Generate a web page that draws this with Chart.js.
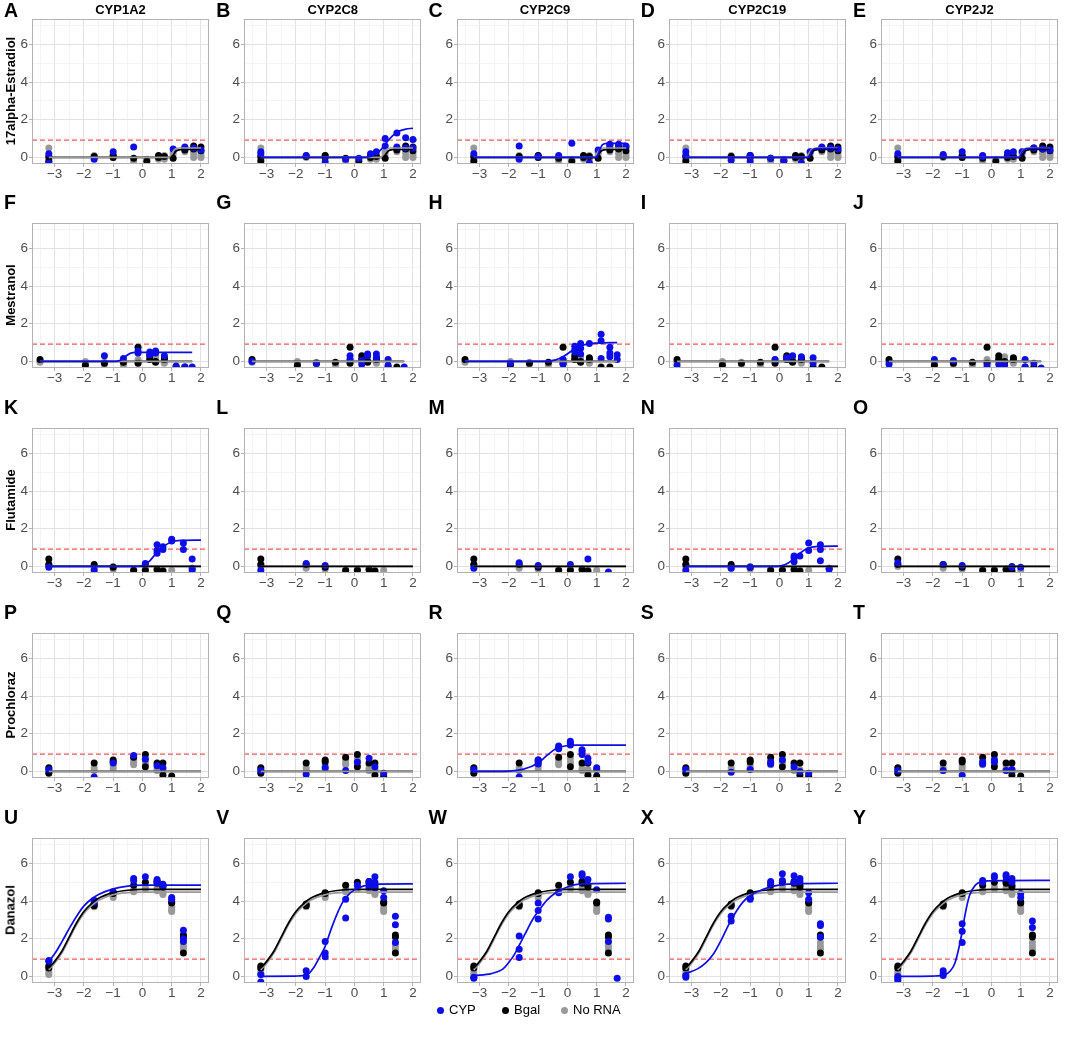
<!DOCTYPE html>
<html>
<head>
<meta charset="utf-8">
<script src="https://cdn.jsdelivr.net/npm/chart.js@4.4.1/dist/chart.umd.min.js"></script>
<style>
  html, body { margin:0; padding:0; background:#ffffff; }
  body { width:1065px; height:1053px; position:relative; overflow:hidden; font-family:"Liberation Sans", Arial, sans-serif; }
  canvas.panel { position:absolute; }
  .letter { position:absolute; font-weight:bold; font-size:19.5px; color:#000; line-height:1; }
  .title { position:absolute; font-weight:bold; font-size:13px; color:#000; text-align:center; width:177px; line-height:1; }
  .ylab { position:absolute; font-weight:bold; font-size:13px; color:#000; white-space:nowrap; transform:translate(-50%,-50%) rotate(-90deg); line-height:1; }
  .legend { position:absolute; top:1002px; left:0; width:1065px; height:18px; font-size:13px; color:#000; }
  .legend .dot { position:absolute; width:7px; height:7px; border-radius:50%; top:5px; }
  .legend .txt { position:absolute; top:1px; line-height:1; }
</style>
</head>
<body>
<script>
// ---------------- axis / layout data ----------------
const X_MIN = -3.775, X_MAX = 2.275;
const Y_MIN = -0.35, Y_MAX = 7.35;
const X_MAJOR = [-3, -2, -1, 0, 1, 2];
const X_MINOR = [-3.5, -2.5, -1.5, -0.5, 0.5, 1.5];
const Y_MAJOR = [0, 2, 4, 6];
const Y_MINOR = [1, 3, 5, 7];
const THRESHOLD = 0.92;

const enzymes = ["CYP1A2", "CYP2C8", "CYP2C9", "CYP2C19", "CYP2J2"];
const compounds = ["17alpha-Estradiol", "Mestranol", "Flutamide", "Prochloraz", "Danazol"];
const panelLetters = ["A","B","C","D","E","F","G","H","I","J","K","L","M","N","O","P","Q","R","S","T","U","V","W","X","Y"];
const fitOnTop = ["grey", "grey", "black", "grey", "black"];

// ---------------- 17alpha-Estradiol ----------------
const estradiolDoses = [-3.2, -1.65, -1.0, -0.3, 0.15, 0.55, 0.75, 1.05, 1.45, 1.75, 2.0];
const estradiolBgal  = [[-0.2,0.05],[0.05],[0.1,0.0],[-0.05],[-0.2],[0.1,0.0],[0.05],[-0.05],[0.5,0.4],[0.6,0.45],[0.55,0.35]];
const estradiolNoRNA = [[0.5,0.0,-0.1],[0.1,0.0],[0.1,0.0],[-0.2],[-0.1],[-0.1,0.0],[0.1,0.0,-0.1],[0.3,0.2],[0.45,0.3],[0.35,0.2,0.0],[0.25,0.1,0.0]];
const estradiolBgalFit  = [[-3.2,0],[0.95,0],[1.05,0.12],[1.15,0.33],[1.3,0.41],[1.5,0.42],[2.0,0.42]];
const estradiolNoRNAFit = [[-3.2,0],[0.9,0],[1.0,0.2],[1.1,0.42],[1.25,0.5],[2.0,0.5]];
const estradiol_CYP1A2  = [[0.2,-0.3],[-0.1],[0.3],[0.55],[],[],[],[0.45],[0.55],[0.5],[0.4]];
const estradiol_CYP2C8  = [[0.3,0.2],[0.1],[-0.25],[-0.1],[-0.05],[0.2],[0.3],[1.0,0.6],[1.3,0.55],[1.05,0.5],[0.95,0.5]];
const estradiol_CYP2C9  = [[0.2],[0.6,-0.1],[0.05],[0.1],[0.75],[],[-0.3],[0.4],[0.7,0.65],[0.7],[0.6]];
const estradiol_CYP2C19 = [[0.3,0.1],[-0.15],[0.1,-0.2],[-0.05],[-0.15],[],[-0.3],[0.3],[0.55],[0.5],[0.45]];
const estradiol_CYP2J2  = [[0.2],[0.15],[0.3],[0.1,0.05],[],[0.25],[0.3],[0.3],[0.5],[0.45],[0.4]];
const estradiol_CYP1A2_fit  = null;
const estradiol_CYP2C8_fit  = [[-3.2,0],[0.4,0],[0.7,0.15],[0.9,0.4],[1.1,0.8],[1.3,1.15],[1.5,1.38],[1.75,1.5],[2.0,1.55]];
const estradiol_CYP2C9_fit  = [[-3.2,0],[1.0,0],[1.1,0.4],[1.2,0.68],[1.35,0.75],[2.0,0.75]];
const estradiol_CYP2C19_fit = [[-3.2,0],[1.0,0],[1.1,0.35],[1.25,0.47],[2.0,0.48]];
const estradiol_CYP2J2_fit  = [[-3.2,0],[0.95,0],[1.05,0.3],[1.2,0.47],[2.0,0.5]];

// ---------------- Mestranol ----------------
const mestranolDoses = [-3.5, -1.95, -1.3, -0.65, -0.15, 0.25, 0.45, 0.75, 1.15, 1.45, 1.7];
const mestranolBgal  = [[0.1],[-0.2],[-0.1],[-0.05],[0.75,-0.1],[0.3,0.1],[0.0,-0.05],[0.2,0.1],[-0.3],[-0.3],[]];
const mestranolNoRNA = [[0.0,-0.05],[-0.1,0.0],[-0.15,-0.05],[-0.2,-0.1],[0.1,0.0],[0.2,0.1],[0.25,0.1],[0.0,-0.1],[],[],[]];
const mestranolBgalFit  = [[-3.5,0],[1.7,0]];
const mestranolNoRNAFit = [[-3.5,0],[1.7,0]];
const mestranol_CYP1A2  = [[],[],[0.3],[0.15],[0.55,0.45],[0.5,0.35],[0.55,0.45],[0.3],[-0.25],[-0.3],[-0.3]];
const mestranol_CYP2C8  = [[0.0],[],[-0.1],[],[0.3,0.1],[0.05,-0.15],[0.4,0.3],[0.4,0.2],[0.1,-0.2],[],[-0.3]];
const mestranol_CYP2C9  = [[],[-0.1],[],[],[0.1,-0.15],[0.8,0.6,0.5],[0.95,0.7,0.4],[0.95],[1.45,1.1,0.15],[0.75,0.45,0.25],[0.35,0.1]];
const mestranol_CYP2C19 = [[-0.2],[],[],[],[0.1],[0.2,0.15],[0.3],[0.25],[0.2,-0.1],[],[]];
const mestranol_CYP2J2  = [[-0.15],[0.1],[0.05],[],[-0.25],[-0.15],[-0.2],[],[0.1,-0.3],[-0.1],[-0.35]];
const mestranol_CYP1A2_fit  = [[-3.5,0],[-0.9,0],[-0.7,0.1],[-0.55,0.3],[-0.4,0.44],[-0.2,0.48],[1.7,0.48]];
const mestranol_CYP2C8_fit  = null;
const mestranol_CYP2C9_fit  = [[-3.5,0],[-0.8,0],[-0.4,0.08],[-0.1,0.3],[0.2,0.62],[0.5,0.85],[0.8,0.95],[1.2,0.99],[1.7,1.0]];
const mestranol_CYP2C19_fit = null;
const mestranol_CYP2J2_fit  = null;

// ---------------- Flutamide ----------------
const flutamideDoses = [-3.2, -1.65, -1.0, -0.3, 0.1, 0.5, 0.7, 1.0, 1.4, 1.7];
const flutamideBgal  = [[0.4,0.1],[0.1],[-0.05],[-0.2],[-0.2],[-0.15],[-0.25],[],[],[]];
const flutamideNoRNA = [[0.1,0.0],[0.0,-0.1],[0.0,-0.15],[-0.2],[-0.15],[-0.2],[-0.2],[-0.2],[],[]];
const flutamideBgalFit  = [[-3.2,0],[2.0,0]];
const flutamideNoRNAFit = [[-3.2,0],[2.0,0]];
const flutamide_CYP1A2  = [[-0.05],[-0.2],[],[],[0.15,0.1],[1.15,0.85,0.7],[1.05,0.9],[1.45,1.35],[1.25,0.9],[0.4,-0.1,-0.2]];
const flutamide_CYP2C8  = [[-0.2],[0.15],[0.05],[],[],[],[],[],[],[]];
const flutamide_CYP2C9  = [[-0.1],[0.2],[0.05],[],[0.1],[],[0.4],[],[-0.3],[]];
const flutamide_CYP2C19 = [[-0.2],[-0.1],[-0.05],[],[],[0.55,0.45,0.25],[0.55],[1.25,0.85],[1.15,0.9,0.3],[-0.1,-0.15]];
const flutamide_CYP2J2  = [[0.2],[0.1],[0.05],[],[],[],[0.0,-0.05],[-0.05],[],[]];
const flutamide_CYP1A2_fit  = [[-3.2,0],[-0.3,0],[0,0.05],[0.25,0.3],[0.5,0.75],[0.75,1.1],[1.0,1.3],[1.3,1.38],[2.0,1.4]];
const flutamide_CYP2C8_fit  = null;
const flutamide_CYP2C9_fit  = null;
const flutamide_CYP2C19_fit = [[-3.2,0],[-0.1,0],[0.2,0.1],[0.45,0.35],[0.7,0.7],[0.95,0.95],[1.3,1.06],[2.0,1.08]];
const flutamide_CYP2J2_fit  = null;

// ---------------- Prochloraz ----------------
const prochlorazDoses = [-3.2, -1.65, -1.0, -0.3, 0.1, 0.5, 0.7, 1.0];
const prochlorazBgal  = [[0.2,-0.1],[0.45],[0.6,0.5],[0.75],[0.9,0.25],[0.45],[0.45,-0.2],[-0.25]];
const prochlorazNoRNA = [[0.15,0.05,-0.05],[0.2,0.05],[0.3,0.15],[0.6,0.45,0.35],[0.7,0.5,0.4],[0.35,0.15,0.05],[0.1,-0.05],[]];
const prochlorazBgalFit  = [[-3.2,0],[2.0,0]];
const prochlorazNoRNAFit = [[-3.2,0],[2.0,0]];
const prochloraz_CYP1A2  = [[0.1],[-0.3],[0.45],[0.85],[0.65],[0.3],[0.2],[]];
const prochloraz_CYP2C8  = [[0.05],[-0.15],[0.2],[0.05],[0.5],[0.7],[0.25],[-0.1]];
const prochloraz_CYP2C9  = [[0.1],[-0.3],[0.6,0.4],[1.35,1.25,1.2],[1.6,1.5,1.4],[1.15,1.05,0.9],[0.7,0.5],[0.2,0.1]];
const prochloraz_CYP2C19 = [[0.1],[-0.05],[0.1],[0.5,0.4],[0.6],[0.25],[0.0],[-0.1]];
const prochloraz_CYP2J2  = [[0.05],[0.05],[-0.2],[0.5,0.4],[0.6,0.5],[0.05],[0.1],[]];
const prochloraz_CYP1A2_fit  = null;
const prochloraz_CYP2C8_fit  = null;
const prochloraz_CYP2C9_fit  = [[-3.2,0],[-2.0,0.02],[-1.5,0.12],[-1.0,0.45],[-0.7,0.85],[-0.4,1.2],[-0.1,1.35],[0.3,1.4],[2.0,1.4]];
const prochloraz_CYP2C19_fit = null;
const prochloraz_CYP2J2_fit  = null;

// ---------------- Danazol ----------------
const danazolDoses = [-3.2, -1.65, -1.0, -0.3, 0.1, 0.5, 0.7, 1.0, 1.4, 1.7];
const danazolBgal  = [[0.55,0.45],[3.85,3.75],[4.45,4.4],[4.85],[5.0],[5.05,4.95],[4.85,4.75],[3.95,3.9],[2.2,2.1,1.25],[]];
const danazolNoRNA = [[0.35,0.2,0.1],[3.8,3.7],[4.3,4.2],[4.6,4.5],[4.75,4.65],[4.7,4.55],[4.45,4.35],[3.7,3.55,3.45],[1.8,1.6,1.45],[]];
const danazolBgalFit  = [[-3.2,0.45],[-3.0,0.8],[-2.75,1.35],[-2.5,2.1],[-2.25,2.85],[-2.0,3.45],[-1.75,3.85],[-1.5,4.15],[-1.0,4.45],[-0.5,4.58],[0,4.62],[2.0,4.62]];
const danazolNoRNAFit = [[-3.2,0.35],[-3.0,0.7],[-2.75,1.25],[-2.5,2.0],[-2.25,2.75],[-2.0,3.35],[-1.75,3.75],[-1.5,4.05],[-1.0,4.35],[-0.5,4.45],[0,4.48],[2.0,4.48]];
const danazol_CYP1A2  = [[0.85,0.8],[4.05,3.95],[4.5],[5.2,5.1],[5.3],[5.15,5.05],[4.9,4.8],[4.2,4.1],[2.45,2.0,1.85],[]];
const danazol_CYP2C8  = [[0.1,-0.3],[0.3,0.0],[1.85,1.25,1.05],[4.1,3.1],[4.85],[5.05,4.75],[5.3,5.0,4.7],[4.55,4.2],[3.2,2.75,1.8],[]];
const danazol_CYP2C9  = [[-0.05,-0.1],[2.15,1.45,1.0],[3.9,3.5,3.05],[4.45],[5.3],[5.45,5.35],[5.15],[4.6],[3.15,3.05,1.85],[-0.1]];
const danazol_CYP2C19 = [[0.05,-0.05],[3.2,2.95],[4.15,4.1],[5.05,4.95],[5.45,5.1],[5.35,5.0],[5.2,5.05],[4.45,4.1],[2.8,2.7,2.1],[]];
const danazol_CYP2J2  = [[0.0,-0.1,-0.2],[0.3,0.15,0.05],[2.8,2.4,1.8],[5.1,5.0],[5.35,5.25],[5.4,5.3],[5.2,5.0],[4.4,4.2],[2.95,2.6],[]];
const danazol_CYP1A2_fit  = [[-3.2,0.8],[-3.0,1.2],[-2.75,1.85],[-2.5,2.55],[-2.25,3.2],[-2.0,3.75],[-1.75,4.1],[-1.5,4.35],[-1.0,4.65],[-0.5,4.8],[0,4.85],[2.0,4.85]];
const danazol_CYP2C8_fit  = [[-3.2,0],[-2.0,0.02],[-1.6,0.1],[-1.4,0.45],[-1.2,1.0],[-1.0,1.6],[-0.8,2.5],[-0.6,3.3],[-0.4,3.95],[-0.2,4.35],[0,4.6],[0.3,4.8],[0.7,4.9],[2.0,4.92]];
const danazol_CYP2C9_fit  = [[-3.2,0.05],[-2.6,0.15],[-2.2,0.4],[-2.0,0.75],[-1.8,1.2],[-1.6,1.8],[-1.4,2.4],[-1.2,3.0],[-1.0,3.45],[-0.7,4.05],[-0.4,4.45],[0,4.75],[0.4,4.9],[2.0,4.95]];
const danazol_CYP2C19_fit = [[-3.2,0.15],[-2.8,0.4],[-2.5,0.75],[-2.25,1.2],[-2.0,1.9],[-1.75,2.7],[-1.5,3.4],[-1.25,3.95],[-1.0,4.3],[-0.6,4.6],[-0.2,4.8],[0.3,4.9],[2.0,4.95]];
const danazol_CYP2J2_fit  = [[-3.2,0],[-2.0,0.02],[-1.6,0.08],[-1.4,0.3],[-1.25,0.7],[-1.1,1.6],[-1.0,2.4],[-0.9,3.3],[-0.75,4.3],[-0.55,4.85],[-0.3,5.05],[-0.1,5.08],[2.0,5.1]];

// ---------------- tables built from the named arrays ----------------
const rows = [
  { doses: estradiolDoses, bgal: estradiolBgal, norna: estradiolNoRNA, bgalFit: estradiolBgalFit, nornaFit: estradiolNoRNAFit,
    cyp: [estradiol_CYP1A2, estradiol_CYP2C8, estradiol_CYP2C9, estradiol_CYP2C19, estradiol_CYP2J2],
    cypFit: [estradiol_CYP1A2_fit, estradiol_CYP2C8_fit, estradiol_CYP2C9_fit, estradiol_CYP2C19_fit, estradiol_CYP2J2_fit] },
  { doses: mestranolDoses, bgal: mestranolBgal, norna: mestranolNoRNA, bgalFit: mestranolBgalFit, nornaFit: mestranolNoRNAFit,
    cyp: [mestranol_CYP1A2, mestranol_CYP2C8, mestranol_CYP2C9, mestranol_CYP2C19, mestranol_CYP2J2],
    cypFit: [mestranol_CYP1A2_fit, mestranol_CYP2C8_fit, mestranol_CYP2C9_fit, mestranol_CYP2C19_fit, mestranol_CYP2J2_fit] },
  { doses: flutamideDoses, bgal: flutamideBgal, norna: flutamideNoRNA, bgalFit: flutamideBgalFit, nornaFit: flutamideNoRNAFit,
    cyp: [flutamide_CYP1A2, flutamide_CYP2C8, flutamide_CYP2C9, flutamide_CYP2C19, flutamide_CYP2J2],
    cypFit: [flutamide_CYP1A2_fit, flutamide_CYP2C8_fit, flutamide_CYP2C9_fit, flutamide_CYP2C19_fit, flutamide_CYP2J2_fit] },
  { doses: prochlorazDoses, bgal: prochlorazBgal, norna: prochlorazNoRNA, bgalFit: prochlorazBgalFit, nornaFit: prochlorazNoRNAFit,
    cyp: [prochloraz_CYP1A2, prochloraz_CYP2C8, prochloraz_CYP2C9, prochloraz_CYP2C19, prochloraz_CYP2J2],
    cypFit: [prochloraz_CYP1A2_fit, prochloraz_CYP2C8_fit, prochloraz_CYP2C9_fit, prochloraz_CYP2C19_fit, prochloraz_CYP2J2_fit] },
  { doses: danazolDoses, bgal: danazolBgal, norna: danazolNoRNA, bgalFit: danazolBgalFit, nornaFit: danazolNoRNAFit,
    cyp: [danazol_CYP1A2, danazol_CYP2C8, danazol_CYP2C9, danazol_CYP2C19, danazol_CYP2J2],
    cypFit: [danazol_CYP1A2_fit, danazol_CYP2C8_fit, danazol_CYP2C9_fit, danazol_CYP2C19_fit, danazol_CYP2J2_fit] }
];

// ---------------- styling ----------------
const COL_BLUE = '#0d0de8', COL_BLACK = '#000000', COL_GREY = '#999999';
const FONT = '"Liberation Sans", Arial, sans-serif';
const TICK_COLOR = '#4d4d4d';
const BORDER_COLOR = '#b3b3b3';
const PLOT_W = 177, PLOT_H = 146;
const PAD_LEFT = 32, PAD_TOP = 8, PAD_RIGHT = 10, PAD_BOTTOM = 22;
const colLeft = c => 32 + 212.25 * c;
const rowTop = r => 17.7 + 204.7 * r;

function toPoints(doses, reps) {
  const out = [];
  doses.forEach((d, i) => (reps[i] || []).forEach(v => out.push({ x: d, y: v })));
  return out;
}
function toLine(pairs) { return pairs.map(p => ({ x: p[0], y: p[1] })); }
function fmt(v) { return v < 0 ? '\u2212' + Math.abs(v) : String(v); }

const framePlugin = {
  id: 'frame',
  afterDraw(chart) {
    const { ctx, chartArea: a } = chart;
    ctx.save();
    ctx.strokeStyle = BORDER_COLOR;
    ctx.lineWidth = 1;
    ctx.strokeRect(Math.round(a.left) + 0.5, Math.round(a.top) + 0.5, Math.round(a.right - a.left) - 1, Math.round(a.bottom - a.top) - 1);
    ctx.restore();
  }
};

function scatterSet(data, color, order) {
  return { type: 'scatter', data, backgroundColor: color, borderWidth: 0, pointRadius: 3.5, pointHoverRadius: 3.5, order, clip: 0 };
}
function lineSet(data, color, order, dash) {
  return { type: 'line', data, borderColor: color, borderWidth: dash ? 1.2 : 1.7, borderDash: dash || [], pointRadius: 0,
           fill: false, cubicInterpolationMode: 'monotone', order, clip: 0 };
}

function makePanel(r, c) {
  const row = rows[r];
  const cv = document.createElement('canvas');
  cv.className = 'panel';
  const W = PAD_LEFT + PLOT_W + PAD_RIGHT, H = PAD_TOP + PLOT_H + PAD_BOTTOM;
  cv.width = W; cv.height = H;
  cv.style.width = W + 'px'; cv.style.height = H + 'px';
  cv.style.left = (colLeft(c) - PAD_LEFT) + 'px';
  cv.style.top = (rowTop(r) - PAD_TOP) + 'px';
  document.body.appendChild(cv);

  const greyTop = fitOnTop[r] === 'grey';
  const datasets = [];
  if (row.cypFit[c]) datasets.push(lineSet(toLine(row.cypFit[c]), COL_BLUE, 0));
  datasets.push(lineSet(toLine(row.bgalFit), COL_BLACK, greyTop ? 2 : 1));
  datasets.push(lineSet(toLine(row.nornaFit), COL_GREY, greyTop ? 1 : 2));
  datasets.push(scatterSet(toPoints(row.doses, row.cyp[c]), COL_BLUE, 3));
  datasets.push(scatterSet(toPoints(row.doses, row.bgal), COL_BLACK, 4));
  datasets.push(scatterSet(toPoints(row.doses, row.norna), COL_GREY, 5));
  datasets.push(lineSet([{ x: X_MIN, y: THRESHOLD }, { x: X_MAX, y: THRESHOLD }], 'rgba(240,70,70,0.9)', 6, [5, 3]));

  const xTicks = X_MAJOR.concat(X_MINOR).sort((a, b) => a - b);
  const yTicks = Y_MAJOR.concat(Y_MINOR).sort((a, b) => a - b);
  const isMajX = v => X_MAJOR.includes(v);
  const isMajY = v => Y_MAJOR.includes(v);

  new Chart(cv, {
    type: 'scatter',
    data: { datasets },
    options: {
      animation: false, responsive: false, maintainAspectRatio: false, devicePixelRatio: 1,
      layout: { padding: { left: 0, top: PAD_TOP, right: PAD_RIGHT, bottom: 0 } },
      plugins: { legend: { display: false }, tooltip: { enabled: false } },
      events: [],
      scales: {
        x: {
          type: 'linear', min: X_MIN, max: X_MAX,
          afterBuildTicks: s => { s.ticks = xTicks.map(v => ({ value: v })); },
          afterFit: s => { s.height = PAD_BOTTOM; },
          border: { display: false },
          grid: {
            color: ctx => isMajX(ctx.tick.value) ? '#e2e2e2' : '#f1f1f1',
            lineWidth: ctx => isMajX(ctx.tick.value) ? 1 : 0.8,
            tickLength: 3,
            tickColor: ctx => isMajX(ctx.tick.value) ? BORDER_COLOR : 'rgba(0,0,0,0)',
            tickWidth: 1
          },
          ticks: {
            autoSkip: false, maxRotation: 0, padding: -1, color: TICK_COLOR,
            font: { family: FONT, size: 13.5 },
            callback: v => isMajX(v) ? fmt(v) : ''
          }
        },
        y: {
          type: 'linear', min: Y_MIN, max: Y_MAX,
          afterBuildTicks: s => { s.ticks = yTicks.map(v => ({ value: v })); },
          afterFit: s => { s.width = PAD_LEFT; },
          border: { display: false },
          grid: {
            color: ctx => isMajY(ctx.tick.value) ? '#e2e2e2' : '#f1f1f1',
            lineWidth: ctx => isMajY(ctx.tick.value) ? 1 : 0.8,
            tickLength: 3,
            tickColor: ctx => isMajY(ctx.tick.value) ? BORDER_COLOR : 'rgba(0,0,0,0)',
            tickWidth: 1
          },
          ticks: {
            autoSkip: false, padding: 1, color: TICK_COLOR,
            font: { family: FONT, size: 13.5 },
            callback: v => isMajY(v) ? fmt(v) : ''
          }
        }
      }
    },
    plugins: [framePlugin]
  });
}

// ---------------- text elements ----------------
function addDiv(cls, text, styles) {
  const d = document.createElement('div');
  d.className = cls; d.textContent = text;
  Object.assign(d.style, styles);
  document.body.appendChild(d);
  return d;
}

for (let r = 0; r < 5; r++) {
  for (let c = 0; c < 5; c++) {
    makePanel(r, c);
    const letterTop = r === 0 ? 1 : rowTop(r) - 29;
    addDiv('letter', panelLetters[r * 5 + c], { left: (colLeft(c) - 28) + 'px', top: letterTop + 'px' });
  }
  addDiv('ylab', compounds[r], { left: '10px', top: (rowTop(r) + PLOT_H / 2) + 'px' });
}
for (let c = 0; c < 5; c++) {
  addDiv('title', enzymes[c], { left: colLeft(c) + 'px', top: '3px' });
}

// legend
const legendItems = [
  { label: 'CYP', color: COL_BLUE, dot: 437, txt: 449 },
  { label: 'Bgal', color: COL_BLACK, dot: 502, txt: 514 },
  { label: 'No RNA', color: COL_GREY, dot: 561, txt: 573 }
];
const leg = document.createElement('div');
leg.className = 'legend';
document.body.appendChild(leg);
legendItems.forEach(it => {
  const d = document.createElement('div'); d.className = 'dot';
  d.style.left = it.dot + 'px'; d.style.background = it.color; leg.appendChild(d);
  const t = document.createElement('div'); t.className = 'txt';
  t.style.left = it.txt + 'px'; t.textContent = it.label; leg.appendChild(t);
});
</script>
</body>
</html>
